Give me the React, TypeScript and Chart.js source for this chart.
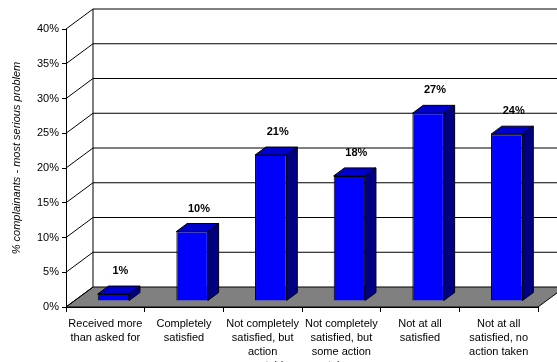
import React, { useEffect, useRef } from "react";
import { Chart, registerables } from "chart.js";

Chart.register(...registerables);

const categories: string[][] = [
  ["Received more", "than asked for"],
  ["Completely", "satisfied"],
  ["Not completely", "satisfied, but", "action", "acceptable"],
  ["Not completely", "satisfied, but", "some action", "taken"],
  ["Not at all", "satisfied"],
  ["Not at all", "satisfied, no", "action taken"],
];
const values: number[] = [1, 10, 21, 18, 27, 24];
const yTicks: number[] = [0, 5, 10, 15, 20, 25, 30, 35, 40];
const yTitle = "% complainants - most serious problem";

const DEPTH_X = 27;
const DEPTH_Y = 20;
const FRONT = 0.3;
const BAR_DEPTH = 0.4;
const FONT = "'Liberation Sans', Arial, sans-serif";

const threeD = {
  id: "threeD",
  beforeDraw(chart: any) {
    const { ctx, chartArea, scales } = chart;
    const y = scales.y;
    const { left, right, top, bottom } = chartArea;
    ctx.save();
    // floor
    ctx.beginPath();
    ctx.moveTo(left, bottom);
    ctx.lineTo(right, bottom);
    ctx.lineTo(right + DEPTH_X, bottom - DEPTH_Y);
    ctx.lineTo(left + DEPTH_X, bottom - DEPTH_Y);
    ctx.closePath();
    ctx.fillStyle = "#808080";
    ctx.fill();
    ctx.strokeStyle = "#000";
    ctx.lineWidth = 1;
    ctx.stroke();
    // back wall grid + left wall lines
    ctx.strokeStyle = "#000";
    for (const t of yTicks) {
      const py = y.getPixelForValue(t);
      ctx.beginPath();
      ctx.moveTo(left, py);
      ctx.lineTo(left + DEPTH_X, py - DEPTH_Y);
      if (t !== 0) ctx.lineTo(right + DEPTH_X + 40, py - DEPTH_Y);
      ctx.stroke();
    }
    // back wall left edge
    ctx.beginPath();
    ctx.moveTo(left + DEPTH_X, top - DEPTH_Y);
    ctx.lineTo(left + DEPTH_X, bottom - DEPTH_Y);
    ctx.stroke();
    // y title
    ctx.translate(17, (top - DEPTH_Y + bottom) / 2);
    ctx.rotate(-Math.PI / 2);
    ctx.font = "italic 11px " + FONT;
    ctx.fillStyle = "#000";
    ctx.textAlign = "center";
    ctx.textBaseline = "middle";
    ctx.fillText(yTitle, 0, 0);
    ctx.restore();
  },
  beforeDatasetsDraw(chart: any) {
    chart.ctx.save();
    chart.ctx.translate(DEPTH_X * FRONT, -DEPTH_Y * FRONT);
  },
  afterDatasetsDraw(chart: any) {
    const { ctx } = chart;
    const meta = chart.getDatasetMeta(0);
    const dx = DEPTH_X * BAR_DEPTH;
    const dy = DEPTH_Y * BAR_DEPTH;
    ctx.lineWidth = 1;
    ctx.strokeStyle = "#000";
    meta.data.forEach((bar: any, i: number) => {
      const x0 = bar.x - bar.width / 2;
      const x1 = bar.x + bar.width / 2;
      const yt = bar.y;
      const yb = bar.base;
      // top face
      ctx.beginPath();
      ctx.moveTo(x0, yt);
      ctx.lineTo(x0 + dx, yt - dy);
      ctx.lineTo(x1 + dx, yt - dy);
      ctx.lineTo(x1, yt);
      ctx.closePath();
      ctx.fillStyle = "#0000CC";
      ctx.fill();
      ctx.stroke();
      // side face
      ctx.beginPath();
      ctx.moveTo(x1, yt);
      ctx.lineTo(x1 + dx, yt - dy);
      ctx.lineTo(x1 + dx, yb - dy);
      ctx.lineTo(x1, yb);
      ctx.closePath();
      ctx.fillStyle = "#000080";
      ctx.fill();
      ctx.stroke();
      // value label
      ctx.fillStyle = "#000";
      ctx.font = "bold 11px " + FONT;
      ctx.textAlign = "center";
      ctx.textBaseline = "middle";
      ctx.fillText(values[i] + "%", bar.x + dx / 2 + 1.5, yt - dy - 15);
    });
    ctx.restore();
  },
};

export default function App() {
  const ref = useRef<HTMLCanvasElement>(null);
  useEffect(() => {
    document.body.style.margin = "0";
    const chart = new Chart(ref.current!, {
      type: "bar",
      data: {
        labels: categories,
        datasets: [
          {
            data: values,
            backgroundColor: "#0000FF",
            borderColor: "#000",
            borderWidth: 1,
            barPercentage: 0.4,
            categoryPercentage: 1,
          },
        ],
      },
      options: {
        animation: false,
        responsive: false,
        devicePixelRatio: 1,
        layout: { padding: { left: 0, right: 19, top: 29, bottom: 0 } },
        plugins: { legend: { display: false }, tooltip: { enabled: false } },
        scales: {
          x: {
            grid: {
              display: true,
              offset: true,
              drawOnChartArea: false,
              tickLength: 5,
              color: "#000",
            },
            border: { display: true, color: "#000" },
            ticks: {
              color: "#000",
              font: { family: FONT, size: 11, lineHeight: 1.27 },
              padding: 5,
              maxRotation: 0,
              autoSkip: false,
            },
            afterFit(s: any) {
              s.height = 55;
            },
          },
          y: {
            min: 0,
            max: 40,
            afterBuildTicks(s: any) {
              s.ticks = yTicks.map((v) => ({ value: v }));
            },
            grid: {
              display: true,
              drawOnChartArea: false,
              tickLength: 4,
              color: "#000",
            },
            border: { display: true, color: "#000" },
            ticks: {
              color: "#000",
              font: { family: FONT, size: 11 },
              padding: 3,
              callback: (v: any) => v + "%",
            },
            afterFit(s: any) {
              s.width = 66;
            },
          },
        },
      },
      plugins: [threeD],
    });
    return () => chart.destroy();
  }, []);
  return (
    <canvas
      ref={ref}
      width={557}
      height={362}
      style={{ display: "block", width: 557, height: 362 }}
    />
  );
}
